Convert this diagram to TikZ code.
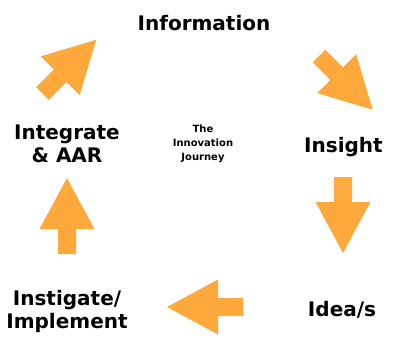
\documentclass[tikz,border=0pt]{standalone}
\usepackage{fontspec}
\setmainfont{DejaVu Sans}
\usepackage{tikz}

\definecolor{arroworange}{RGB}{255,168,60}

\tikzset{
	stage/.style={font=\bfseries\fontsize{20}{23}\selectfont, align=center, inner sep=0pt},
	journey/.style={font=\bfseries\fontsize{10}{14}\selectfont, align=center, inner sep=0pt},
	bigarrow/.pic={
		\fill[arroworange] (0,-9) -- (25,-9) -- (25,-27.5) -- (76,0) -- (25,27.5) -- (25,9) -- (0,9) -- cycle;
	}
}

\begin{document}
\begin{tikzpicture}[x=1pt,y=-1pt]
		\useasboundingbox (0,0) rectangle (417,357);
		
		% Stages of the cycle
		\node[stage] (info) at (204,23.4) {Information};
		\node[stage] (insight) at (343.5,147.5) {Insight};
		\node[stage] (idea) at (342,310) {Idea/s};
		\node[stage] (instigate) at (67,311) {Instigate/\\Implement};
		\node[stage] (integrate) at (67,144) {Integrate\\\& AAR};
		
		% Title in the middle
		\node[journey] (title) at (203,144) {The\\Innovation\\Journey};
		
		% Block arrows, clockwise from top left
		\pic[rotate=45] at (42.5,93.5) {bigarrow};
		\pic[rotate=-45] at (319,56) {bigarrow};
		\pic[rotate=-90] at (343,177) {bigarrow};
		\pic[rotate=180] at (243,307) {bigarrow};
		\pic[rotate=90] at (67,254) {bigarrow};
		
	\end{tikzpicture}
\end{document}
